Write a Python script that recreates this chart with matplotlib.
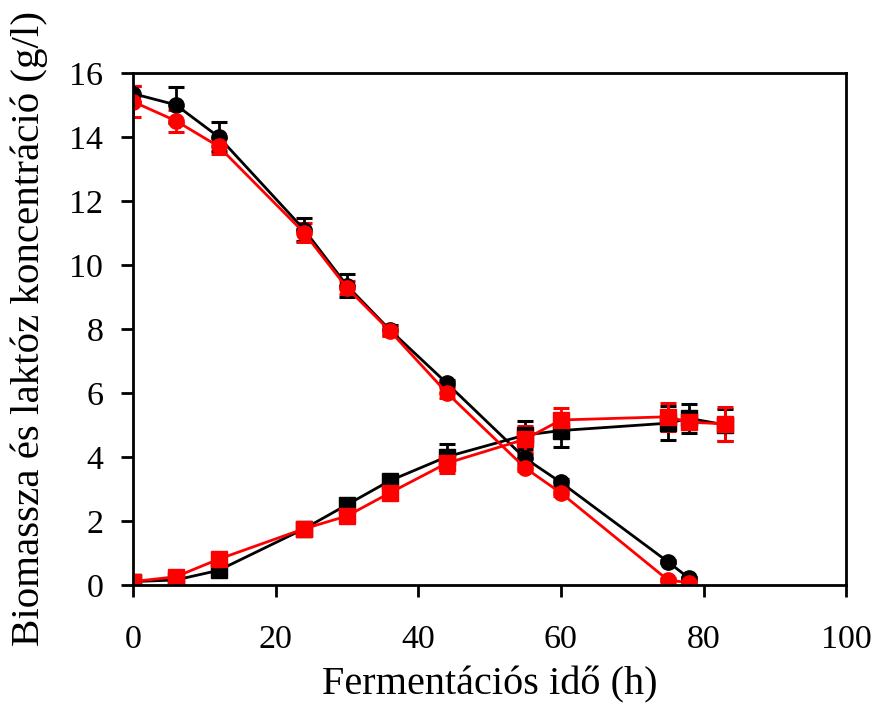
import matplotlib
matplotlib.use("Agg")
import matplotlib.pyplot as plt

plt.rcParams['font.family'] = ['Liberation Serif', 'DejaVu Serif']

# Fermentation time (h)
t_lac = [0, 6, 12, 24, 30, 36, 44, 55, 60, 75, 78]
t_bio = [0, 6, 12, 24, 30, 36, 44, 55, 60, 75, 78, 83]

# lactose (circles)
lac_black = [15.35, 15.0, 14.0, 11.1, 9.35, 7.97, 6.3, 3.95, 3.2, 0.72, 0.2]
lac_black_err = [0.25, 0.56, 0.45, 0.35, 0.35, 0.15, 0.1, 0.15, 0.1, 0.05, 0.05]
lac_red = [15.1, 14.5, 13.7, 11.0, 9.28, 7.94, 6.0, 3.65, 2.87, 0.15, 0.06]
lac_red_err = [0.48, 0.35, 0.25, 0.3, 0.2, 0.15, 0.15, 0.1, 0.1, 0.05, 0.05]

# biomass (squares)
bio_black = [0.1, 0.15, 0.45, 1.75, 2.5, 3.25, 4.0, 4.68, 4.82, 5.05, 5.2, 5.0]
bio_black_err = [0.05, 0.05, 0.05, 0.05, 0.1, 0.15, 0.4, 0.45, 0.5, 0.53, 0.45, 0.5]
bio_red = [0.1, 0.25, 0.8, 1.75, 2.15, 2.87, 3.8, 4.55, 5.15, 5.25, 5.08, 5.03]
bio_red_err = [0.05, 0.05, 0.05, 0.05, 0.1, 0.15, 0.3, 0.4, 0.38, 0.44, 0.2, 0.53]

fig = plt.figure(figsize=(8.75, 7.14), dpi=100)
ax = fig.add_axes([0.152, 0.181, 0.815, 0.717])

eb = dict(lw=2, elinewidth=2, capsize=6, capthick=2.2, ms=11)
ax.errorbar(t_lac, lac_black, yerr=lac_black_err, fmt='-o', color='black', **eb)
ax.errorbar(t_bio, bio_black, yerr=bio_black_err, fmt='-s', color='black', **eb)
ax.errorbar(t_lac, lac_red, yerr=lac_red_err, fmt='-o', color='#ff0000', **eb)
ax.errorbar(t_bio, bio_red, yerr=bio_red_err, fmt='-s', color='#ff0000', **eb)

ax.set_xlim(0, 100)
ax.set_ylim(0, 16)
ax.set_xticks([0, 20, 40, 60, 80, 100])
ax.set_yticks(range(0, 17, 2))
ax.tick_params(direction='out', length=8.5, width=2, labelsize=24.5)
ax.tick_params(axis='x', pad=20)
ax.tick_params(axis='y', pad=13)
for s in ax.spines.values():
    s.set_linewidth(2)

ax.set_xlabel('Fermentációs idő (h)', fontsize=29, labelpad=8)
ax.set_ylabel('Biomassza és laktóz koncentráció (g/l)', fontsize=29.5, labelpad=15)

fig.savefig("out.png", dpi=100)
